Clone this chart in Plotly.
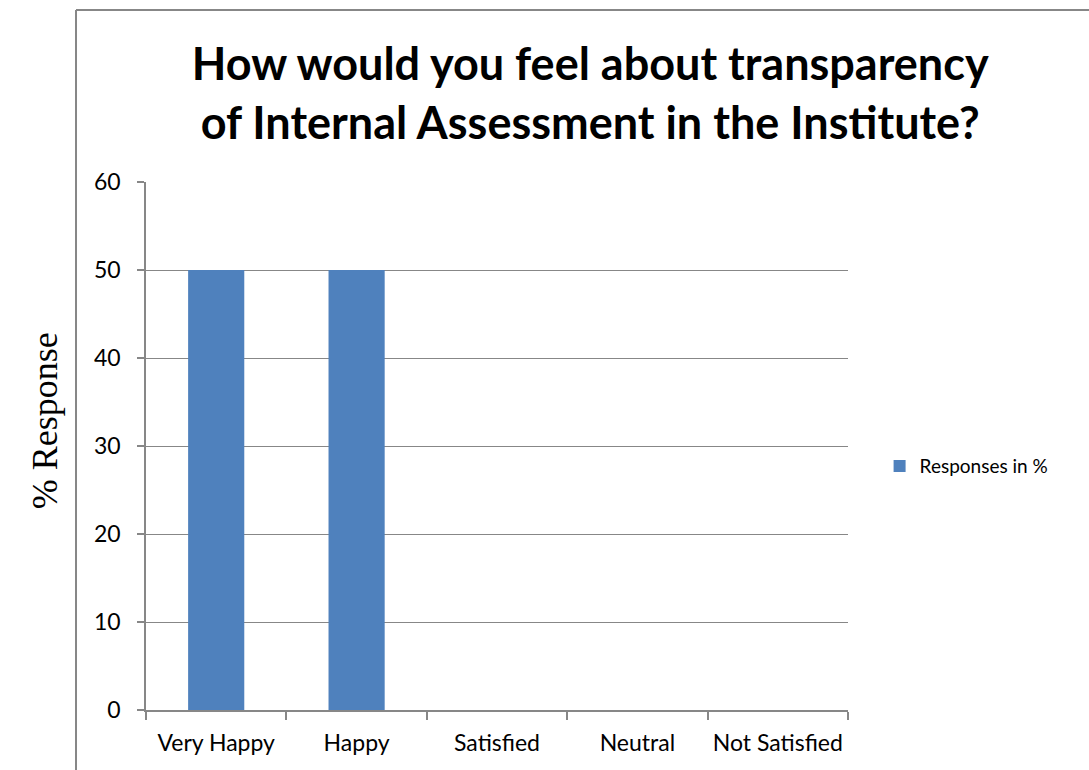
import plotly.graph_objects as go

categories = ["Very Happy", "Happy", "Satisfied", "Neutral", "Not Satisfied"]
responses = [50, 50, 0, 0, 0]
y_ticks = [0, 10, 20, 30, 40, 50, 60]

AXIS_GREY = "#878787"
BAR_BLUE = "#4f81bd"
FONT = "Lato"

fig = go.Figure()
fig.add_trace(go.Bar(
    x=categories,
    y=responses,
    name="Responses in %",
    marker=dict(color=BAR_BLUE, line=dict(width=0)),
    showlegend=True,
))

fig.update_layout(
    width=1089,
    height=770,
    margin=dict(l=146, r=241, t=182, b=60, autoexpand=False),
    paper_bgcolor="white",
    plot_bgcolor="white",
    bargap=0.6,
    font=dict(family=FONT, color="black", size=23),
    title=dict(
        text="<b>How would you feel about transparency<br>of Internal Assessment in the Institute?</b>",
        x=0.542, xanchor="center",
        y=0.896, yanchor="middle",
        font=dict(family=FONT, size=45, color="black"),
    ),
    legend=dict(
        x=1.045, y=0.462, xanchor="left", yanchor="middle",
        font=dict(family=FONT, size=19, color="black"),
        itemwidth=30,
        bgcolor="rgba(0,0,0,0)",
    ),
    xaxis=dict(
        showline=True, linecolor=AXIS_GREY, linewidth=1.5,
        ticks="outside", tickson="boundaries", ticklen=8,
        tickcolor=AXIS_GREY, tickwidth=1.5,
        showgrid=False, zeroline=False,
        tickangle=0, automargin=False,
        tickfont=dict(family=FONT, size=23),
        ticklabelstandoff=12,
    ),
    yaxis=dict(
        range=[0, 60], tickvals=y_ticks,
        showline=True, linecolor=AXIS_GREY, linewidth=1.5,
        ticks="outside", ticklen=7, tickcolor=AXIS_GREY, tickwidth=1.5,
        showgrid=True, gridcolor=AXIS_GREY, gridwidth=1.2,
        zeroline=False, automargin=False,
        tickfont=dict(family=FONT, size=23),
        ticklabelstandoff=12,
    ),
)

# Y-axis caption in a serif face, placed outside the framed chart area
fig.add_annotation(
    text="% Response",
    xref="paper", yref="paper",
    x=-0.175, y=0.547,
    textangle=-90, showarrow=False,
    font=dict(family="Liberation Serif", size=36, color="black"),
)

# Frame lines along the top and left edges of the chart container
fig.add_shape(type="line", xref="paper", yref="paper",
              x0=-0.0997, x1=1.36, y0=1.3258, y1=1.3258,
              line=dict(color=AXIS_GREY, width=2))
fig.add_shape(type="line", xref="paper", yref="paper",
              x0=-0.0997, x1=-0.0997, y0=1.3258, y1=-0.12,
              line=dict(color=AXIS_GREY, width=2))

fig.write_html("out.html")
